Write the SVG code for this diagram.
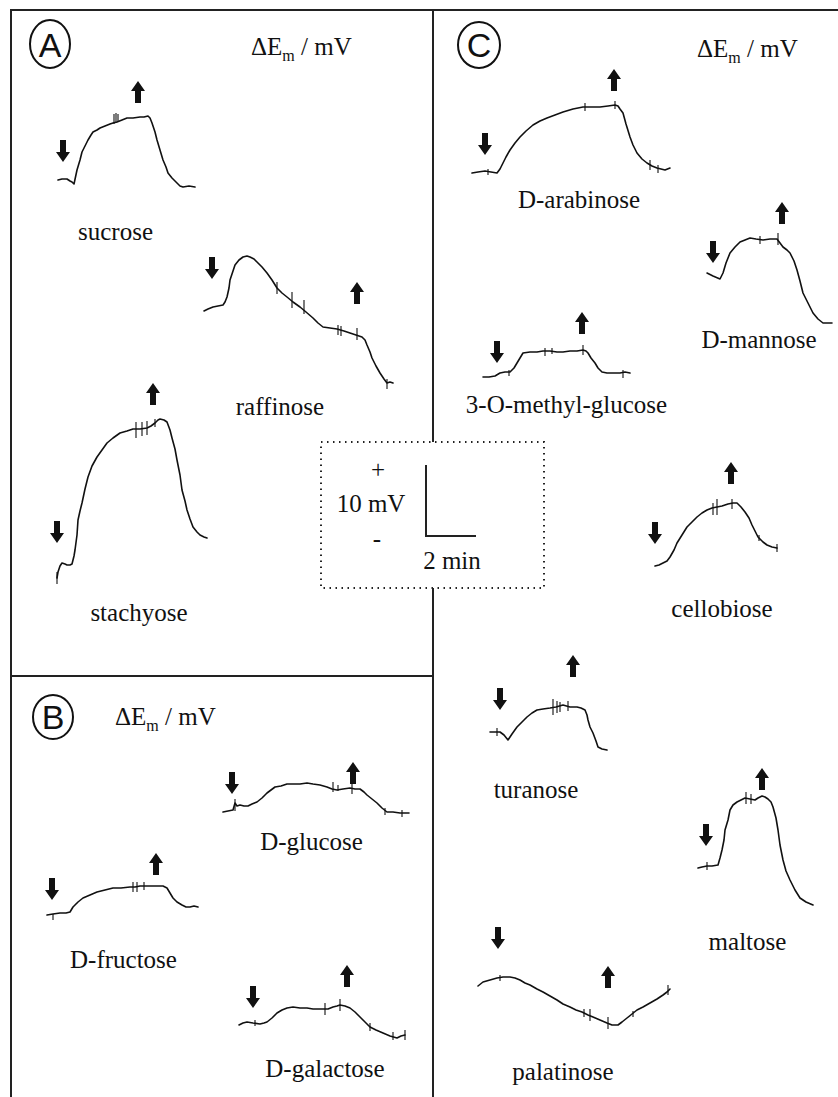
<svg xmlns="http://www.w3.org/2000/svg" width="838" height="1097" viewBox="0 0 838 1097">
<style>
.frame{stroke:#222;stroke-width:2;fill:none}
.tr{stroke:#111;stroke-width:1.6;fill:none;stroke-linejoin:round;stroke-linecap:round}
.tk{stroke:#111;stroke-width:1.1;fill:none}
.lbl{font-family:"Liberation Serif","Times New Roman",serif;font-size:25px;fill:#111;text-anchor:middle}
.dem{font-family:"Liberation Serif","Times New Roman",serif;font-size:25px;fill:#111}
.pl{font-family:"Liberation Sans",Arial,sans-serif;font-size:34px;fill:#111;text-anchor:middle}
.circ{stroke:#111;stroke-width:2;fill:none}
.dot{stroke:#222;stroke-width:2;fill:none;stroke-dasharray:1.5 4.5}
</style>
<defs>
<path id="dn" d="M-3,-22 H3 V-10 H7 L0,0 L-7,-10 H-3 Z" fill="#111"/>
<path id="up" d="M-3,22 H3 V10 H7 L0,0 L-7,10 H-3 Z" fill="#111"/>
</defs>

<g id="frame">
<line class="frame" x1="11" y1="10" x2="838" y2="10"/>
<line class="frame" x1="11" y1="9" x2="11" y2="1097"/>
<line class="frame" x1="433" y1="10" x2="433" y2="442"/>
<line class="frame" x1="433" y1="588" x2="433" y2="1097"/>
<line class="frame" x1="11" y1="676" x2="433" y2="676"/>
</g>

<g id="scale">
<rect class="dot" x="321" y="442" width="223" height="146"/>
<polyline class="frame" points="426,465 426,536 476,536"/>
<text class="lbl" x="378" y="478">+</text>
<text class="lbl" x="371" y="512">10 mV</text>
<text class="lbl" x="377" y="547">-</text>
<text class="lbl" x="452" y="569">2 min</text>
</g>

<g id="panelA">
<ellipse class="circ" cx="50" cy="44" rx="20" ry="24"/>
<text class="pl" x="50" y="57">A</text>
<text class="dem" x="251" y="55">ΔE<tspan font-size="16" dy="6">m</tspan><tspan dy="-6"> / mV</tspan></text>
</g>

<g id="sucrose">
<polyline class="tr" points="58,180 62,179 67,179 70,181 72,182 74,184 77,170 80,160 82,152 85,146 88,140 91,135 93,132 97,130 100,128 105,126 110,124 113,123 117,122 122,120 127,118 133,118 140,117 144,117 148,116 150,118 152,123 155,132 157,140 160,150 163,160 166,167 168,173 172,178 177,183 180,186 183,187 189,186 195,187"/>
<path class="tk" d="M114,114 V124 M116,113 V123 M118,114 V122"/>
<use href="#dn" x="63" y="162"/>
<use href="#up" x="138" y="81"/>
<text class="lbl" x="115.5" y="240">sucrose</text>
</g>

<g id="raffinose">
<polyline class="tr" points="204,311 208,309 213,307 218,306 223,305 225,302 227,297 229,288 230,280 233,271 235,265 239,260 243,257 247,256 250,257 254,259 257,262 262,267 267,273 272,280 277,288 282,293 287,297 293,302 300,307 306,312 313,318 318,323 323,327 330,328 337,329 344,331 350,333 356,335 362,337 365,340 367,345 370,352 372,358 376,366 380,373 384,379 387,383 390,382 393,383"/>
<path class="tk" d="M277,282 V294 M292,292 V308 M304,300 V314 M338,325 V335 M341,326 V336 M357,328 V340 M387,379 V389"/>
<use href="#dn" x="212" y="279"/>
<use href="#up" x="357" y="282"/>
<text class="lbl" x="280" y="415">raffinose</text>
</g>

<g id="stachyose">
<polyline class="tr" points="57,578 58,572 60,566 62,563 65,564 67,565 70,565 72,564 74,556 75,550 77,535 78,520 80,511 82,503 85,489 88,477 92,466 97,457 102,450 107,443 113,438 120,433 127,431 133,429 140,429 147,428 151,426 155,423 158,420 160,419 164,420 167,422 170,430 172,438 175,449 177,460 180,475 182,490 185,501 187,510 190,519 193,527 197,532 200,535 204,537 207,538"/>
<path class="tk" d="M136,422 V438 M142,422 V436 M147,421 V435 M155,419 V427 M57,572 V584"/>
<use href="#dn" x="57" y="543"/>
<use href="#up" x="153" y="383"/>
<text class="lbl" x="139" y="621">stachyose</text>
</g>

<g id="panelB">
<ellipse class="circ" cx="53" cy="717" rx="20" ry="22"/>
<text class="pl" x="53" y="729" font-size="32">B</text>
<text class="dem" x="115" y="725">ΔE<tspan font-size="16" dy="6">m</tspan><tspan dy="-6"> / mV</tspan></text>
</g>

<g id="d-glucose">
<polyline class="tr" points="223,812 228,811 233,810 235,803 237,806 240,805 244,806 248,806 252,804 257,802 262,798 267,793 271,790 275,787 281,786 287,784 293,784 300,784 307,783 313,784 320,785 327,787 332,789 337,790 343,789 350,788 355,789 360,789 364,792 367,795 372,799 377,803 382,808 387,812 393,812 400,813 405,813 409,813"/>
<path class="tk" d="M235,799 V811 M333,782 V792 M338,785 V791 M352,784 V794 M385,808 V815 M402,810 V817"/>
<use href="#dn" x="232" y="794"/>
<use href="#up" x="353" y="762"/>
<text class="lbl" x="311.5" y="850">D-glucose</text>
</g>

<g id="d-fructose">
<polyline class="tr" points="47,915 53,914 60,913 66,913 70,912 73,907 78,902 83,898 90,895 97,892 105,890 113,888 121,888 130,887 135,887 140,886 150,886 157,886 163,886 167,888 170,893 173,898 177,902 182,905 186,907 190,907 194,906 198,907"/>
<path class="tk" d="M53,914 V920 M133,882 V892 M137,882 V892 M144,882 V890"/>
<use href="#dn" x="52" y="900"/>
<use href="#up" x="156" y="853"/>
<text class="lbl" x="123.5" y="968">D-fructose</text>
</g>

<g id="d-galactose">
<polyline class="tr" points="239,1025 243,1023 247,1022 253,1023 260,1024 264,1023 267,1022 272,1018 277,1013 282,1010 287,1008 293,1007 300,1008 307,1008 313,1009 320,1009 325,1009 328,1009 333,1007 337,1006 340,1005 345,1006 350,1008 355,1012 360,1017 365,1022 370,1027 376,1030 383,1033 390,1036 397,1038 401,1036 405,1035"/>
<path class="tk" d="M255,1020 V1026 M325,1003 V1015 M340,999 V1011 M370,1023 V1031 M393,1032 V1040 M405,1030 V1040"/>
<use href="#dn" x="253" y="1008"/>
<use href="#up" x="347" y="965"/>
<text class="lbl" x="325" y="1077">D-galactose</text>
</g>

<g id="panelC">
<ellipse class="circ" cx="479" cy="45" rx="21" ry="23"/>
<text class="pl" x="479" y="57">C</text>
<text class="dem" x="697" y="57">ΔE<tspan font-size="16" dy="6">m</tspan><tspan dy="-6"> / mV</tspan></text>
</g>

<g id="d-arabinose">
<polyline class="tr" points="472,173 478,172 485,171 491,172 497,173 500,169 502,165 506,157 510,150 515,143 520,137 526,131 533,125 540,121 547,118 555,115 563,112 573,109 583,107 591,107 600,107 608,106 615,105 618,106 620,109 623,113 626,124 630,137 633,145 637,153 642,159 647,163 652,166 657,168 661,169 665,170 670,168"/>
<path class="tk" d="M488,169 V175 M585,103 V111 M615,101 V109 M650,160 V170 M658,165 V173"/>
<use href="#dn" x="485" y="155"/>
<use href="#up" x="614" y="69"/>
<text class="lbl" x="579" y="208">D-arabinose</text>
</g>

<g id="d-mannose">
<polyline class="tr" points="707,273 713,276 720,279 723,273 726,263 730,253 735,247 740,242 745,240 750,238 756,239 763,240 770,239 777,239 780,243 783,247 787,250 790,253 794,261 797,270 800,281 803,293 808,303 813,313 818,319 823,323 828,323 832,323"/>
<path class="tk" d="M760,236 V244 M778,233 V245"/>
<use href="#dn" x="713" y="263"/>
<use href="#up" x="782" y="202"/>
<text class="lbl" x="759" y="348">D-mannose</text>
</g>

<g id="o-methyl-glucose">
<polyline class="tr" points="483,377 489,377 495,376 500,373 505,372 510,372 514,368 517,363 520,358 523,353 530,352 537,352 543,351 550,351 557,352 563,352 570,351 577,351 583,350 586,351 588,353 591,358 595,363 598,368 602,372 607,373 613,373 620,373 625,372 630,373"/>
<path class="tk" d="M509,370 V376 M545,348 V356 M552,348 V354 M583,345 V355 M623,370 V378"/>
<use href="#dn" x="497" y="363"/>
<use href="#up" x="582" y="312"/>
<text class="lbl" x="566.5" y="413">3-O-methyl-glucose</text>
</g>

<g id="cellobiose">
<polyline class="tr" points="655,566 659,565 663,563 667,561 670,557 674,550 677,543 682,535 687,527 692,522 697,517 702,513 707,510 712,508 717,507 722,506 728,504 733,503 737,503 741,507 745,512 749,518 752,525 755,531 758,537 763,542 767,545 772,547 777,548"/>
<path class="tk" d="M713,503 V515 M717,499 V515 M732,499 V509 M759,535 V541 M777,544 V552"/>
<use href="#dn" x="655" y="544"/>
<use href="#up" x="731" y="462"/>
<text class="lbl" x="722" y="617">cellobiose</text>
</g>

<g id="turanose">
<polyline class="tr" points="490,732 495,732 500,732 504,735 508,740 512,734 517,727 522,722 527,717 532,713 537,710 543,709 550,708 556,707 563,705 570,707 577,707 581,708 585,710 587,715 588,720 590,727 593,733 596,741 598,747 602,749 607,750"/>
<path class="tk" d="M497,728 V736 M553,699 V715 M557,701 V713 M560,702 V712 M568,701 V711"/>
<use href="#dn" x="500" y="710"/>
<use href="#up" x="573" y="655"/>
<text class="lbl" x="536" y="798">turanose</text>
</g>

<g id="maltose">
<polyline class="tr" points="698,868 702,867 707,866 712,866 718,865 720,858 722,850 724,840 725,830 728,820 730,810 733,805 737,802 741,800 745,798 750,799 755,800 758,798 762,796 765,797 768,799 771,802 773,807 776,818 778,830 780,845 783,860 786,871 790,880 795,890 800,898 806,902 813,905"/>
<path class="tk" d="M707,862 V870 M746,792 V804 M751,794 V804"/>
<use href="#dn" x="706" y="846"/>
<use href="#up" x="762" y="768"/>
<text class="lbl" x="747.5" y="950">maltose</text>
</g>

<g id="palatinose">
<polyline class="tr" points="478,986 483,982 490,980 497,978 503,977 510,977 515,978 520,980 525,983 530,985 537,989 543,992 550,996 557,1000 563,1004 570,1007 576,1010 582,1012 588,1015 593,1017 600,1020 607,1023 612,1025 618,1025 622,1022 627,1018 632,1014 637,1010 643,1007 650,1003 657,999 663,995 667,992 670,989"/>
<path class="tk" d="M500,975 V981 M584,1009 V1017 M590,1009 V1021 M608,1017 V1029 M633,1011 V1017 M668,985 V995"/>
<use href="#dn" x="498" y="949"/>
<use href="#up" x="608" y="966"/>
<text class="lbl" x="563" y="1080">palatinose</text>
</g>
</svg>
